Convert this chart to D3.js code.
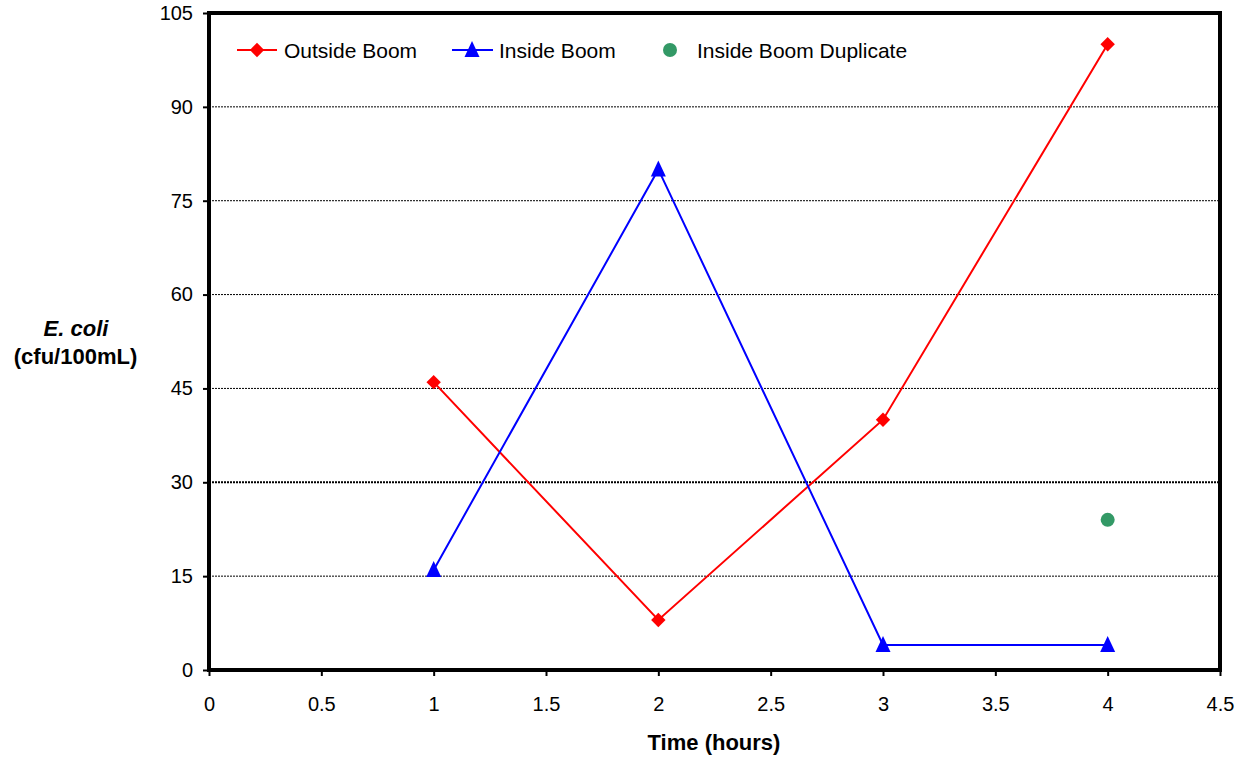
<!DOCTYPE html>
<html><head><meta charset="utf-8">
<script src="https://cdn.jsdelivr.net/npm/d3@7"></script>
<style>body{margin:0;background:#fff}svg{display:block}text{font-family:"Liberation Sans",Arial,sans-serif}</style>
</head><body>
<svg id="c" width="1247" height="757"></svg>
<script>
const hours = [1, 2, 3, 4];
const outsideBoom = [46, 8, 40, 100];
const insideBoom = [16, 80, 4, 4];
const dupHours = [4];
const insideBoomDuplicate = [24];
const xTicks = [0, 0.5, 1, 1.5, 2, 2.5, 3, 3.5, 4, 4.5];
const yTicks = [0, 15, 30, 45, 60, 75, 90, 105];

const svg = d3.select("#c");
const L = 209, R = 1220, T = 13, B = 670;
const x = d3.scaleLinear().domain([0, 4.5]).range([L, R]);
const y = d3.scaleLinear().domain([0, 105]).range([B, T]);

// gridlines
svg.append("g").selectAll("line").data(yTicks.filter(v => v > 0 && v < 105)).join("line")
  .attr("x1", L).attr("x2", R).attr("y1", d => y(d)).attr("y2", d => y(d))
  .attr("stroke", "#000").attr("stroke-width", d => d === 30 ? 2 : 1).attr("stroke-dasharray", "2,1");

// axes
const yAxis = svg.append("g").attr("transform", `translate(${L},0)`)
  .call(d3.axisLeft(y).tickValues(yTicks).tickSize(6).tickPadding(10).tickFormat(d3.format("d")));
const xAxis = svg.append("g").attr("transform", `translate(0,${B})`)
  .call(d3.axisBottom(x).tickValues(xTicks).tickSize(6).tickPadding(21).tickFormat(d => String(d)));
[yAxis, xAxis].forEach(g => {
  g.select(".domain").remove();
  g.selectAll("line").attr("stroke", "#000").attr("stroke-width", 2);
  g.selectAll("text").attr("font-size", 20).attr("fill", "#000").attr("font-family", "Liberation Sans, Arial, sans-serif");
});

// frame
svg.append("rect").attr("x", L).attr("y", T).attr("width", R - L).attr("height", B - T)
  .attr("fill", "none").attr("stroke", "#000").attr("stroke-width", 4);

// lines
const line = d3.line().x(d => x(d[0])).y(d => y(d[1]));
const outPts = hours.map((h, i) => [h, outsideBoom[i]]);
const inPts = hours.map((h, i) => [h, insideBoom[i]]);
svg.append("path").attr("d", line(outPts)).attr("fill", "none").attr("stroke", "#ff0000").attr("stroke-width", 2);
svg.append("path").attr("d", line(inPts)).attr("fill", "none").attr("stroke", "#0000ff").attr("stroke-width", 2);

function diamondPath(cx, cy, r) { return `M${cx},${cy - r}L${cx + r},${cy}L${cx},${cy + r}L${cx - r},${cy}Z`; }
function triPath(cx, cy) { return `M${cx},${cy - 9}L${cx + 7.5},${cy + 7}L${cx - 7.5},${cy + 7}Z`; }

svg.append("g").selectAll("path").data(outPts).join("path")
  .attr("d", d => diamondPath(x(d[0]), y(d[1]), 7.2)).attr("fill", "#ff0000");
svg.append("g").selectAll("path").data(inPts).join("path")
  .attr("d", d => triPath(x(d[0]), y(d[1]))).attr("fill", "#0000ff");
svg.append("g").selectAll("circle").data(dupHours.map((h, i) => [h, insideBoomDuplicate[i]])).join("circle")
  .attr("cx", d => x(d[0])).attr("cy", d => y(d[1])).attr("r", 7).attr("fill", "#339966");

// legend
const lg = svg.append("g");
lg.append("line").attr("x1", 237).attr("x2", 277).attr("y1", 50).attr("y2", 50).attr("stroke", "#ff0000").attr("stroke-width", 2);
lg.append("path").attr("d", diamondPath(257, 50, 7.2)).attr("fill", "#ff0000");
lg.append("text").attr("x", 284).attr("y", 57.5).attr("font-size", 21).text("Outside Boom");
lg.append("line").attr("x1", 452).attr("x2", 493).attr("y1", 50).attr("y2", 50).attr("stroke", "#0000ff").attr("stroke-width", 2);
lg.append("path").attr("d", triPath(472, 50)).attr("fill", "#0000ff");
lg.append("text").attr("x", 499).attr("y", 57.5).attr("font-size", 21).text("Inside Boom");
lg.append("circle").attr("cx", 670).attr("cy", 50).attr("r", 7).attr("fill", "#339966");
lg.append("text").attr("x", 697).attr("y", 57.5).attr("font-size", 21).text("Inside Boom Duplicate");

// axis titles
svg.append("text").attr("x", 714).attr("y", 750).attr("text-anchor", "middle").attr("font-size", 22).attr("font-weight", "bold").text("Time (hours)");
svg.append("text").attr("x", 76).attr("y", 336).attr("text-anchor", "middle").attr("font-size", 22).attr("font-weight", "bold").attr("font-style", "italic").text("E. coli");
svg.append("text").attr("x", 75.5).attr("y", 364).attr("text-anchor", "middle").attr("font-size", 22).attr("font-weight", "bold").text("(cfu/100mL)");
</script>
</body></html>
